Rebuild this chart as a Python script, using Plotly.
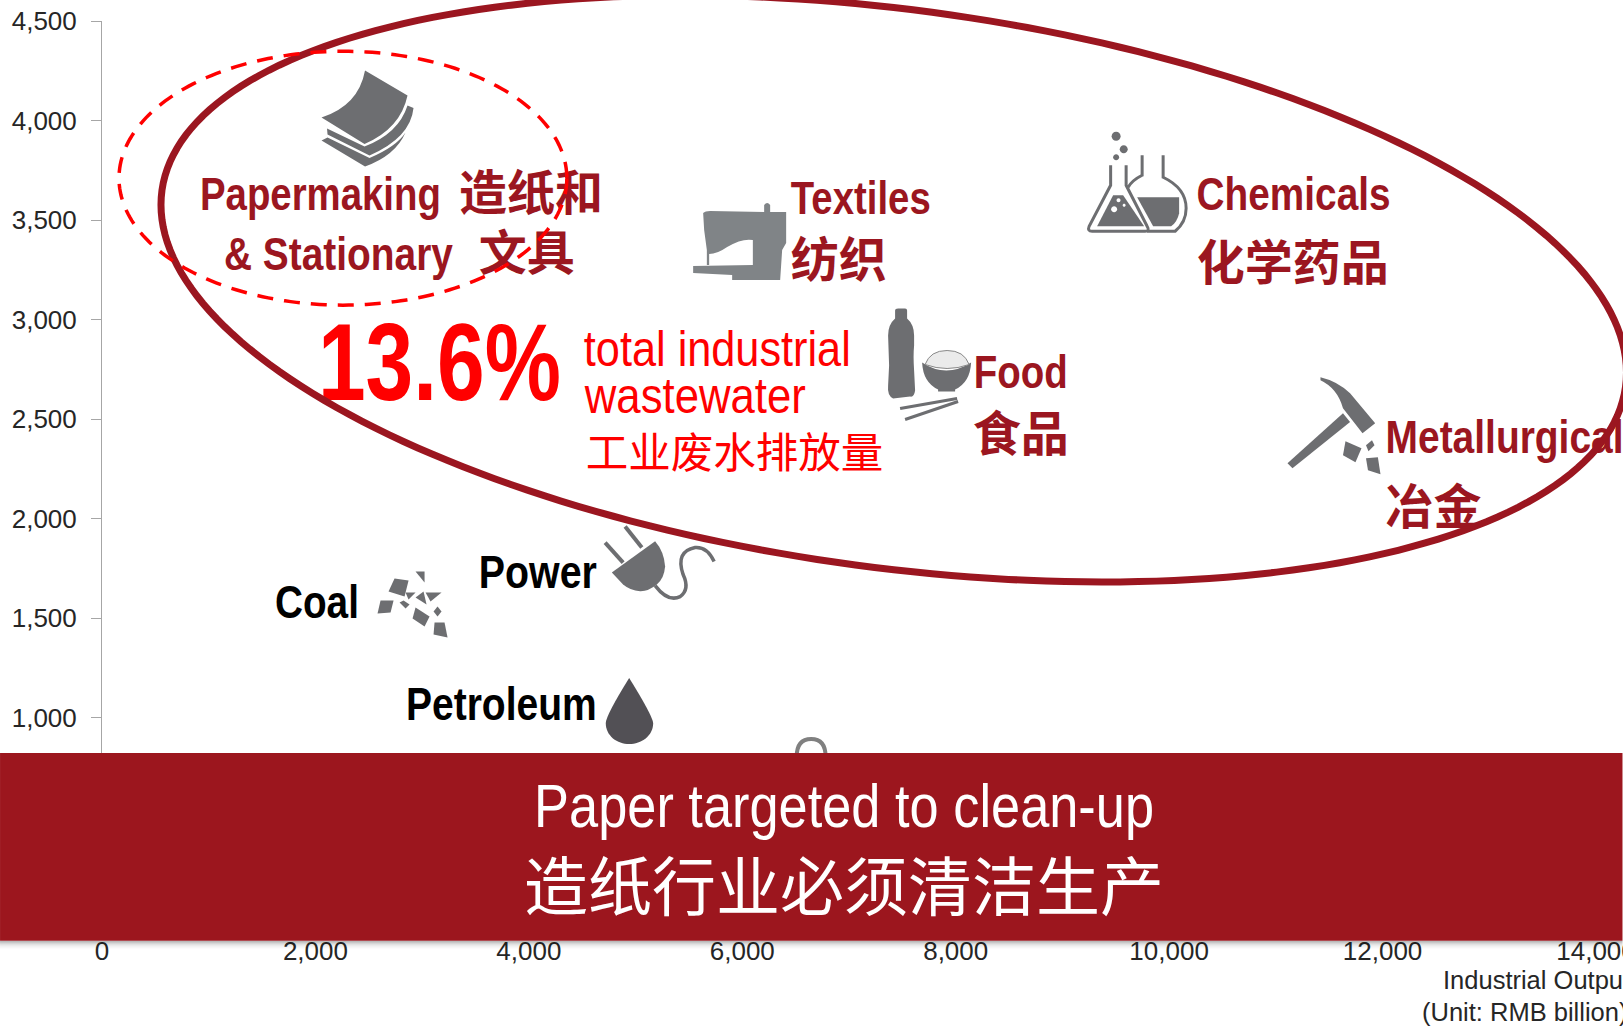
import re
import json
import math
import plotly.graph_objects as go

# ---------- data ----------
sectors = ["Papermaking", "Textiles", "Chemicals", "Food", "Metallurgical", "Coal", "Power", "Petroleum", "Other"]
output_rmb_bn = [2460, 5980, 9700, 7760, 11540, 2910, 5230, 4940, 6650]
wastewater = [4025, 3400, 3675, 2820, 2470, 1570, 1770, 1035, 789]
x_ticks = [0, 2000, 4000, 6000, 8000, 10000, 12000, 14000]
y_ticks = [0, 500, 1000, 1500, 2000, 2500, 3000, 3500, 4000, 4500]

# ---------- frame ----------
W, H = 1623, 1026
L, T = 102, 20.7
PW, PH = 1494.5, 896.5
XMAX, YMAX = 14000, 4500
GREY, DROP, MACH = "#6D6E71", "#525055", "#808487"
DARK, RED = "#9B1620", "#FF0000"
CJK = "Noto Sans CJK SC, sans-serif"
SANS = "Liberation Sans, Arial, sans-serif"

def dx(px): return (px - L) / PW * XMAX
def dy(py): return (T + PH - py) / PH * YMAX
def pxp(px): return (px - L) / PW
def pyp(py): return 1 - (py - T) / PH

def circle(cx, cy, r):
    k = 0.5523 * r
    return (f"M{cx-r} {cy} C{cx-r} {cy-k} {cx-k} {cy-r} {cx} {cy-r} C{cx+k} {cy-r} {cx+r} {cy-k} {cx+r} {cy} "
            f"C{cx+r} {cy+k} {cx+k} {cy+r} {cx} {cy+r} C{cx-k} {cy+r} {cx-r} {cy+k} {cx-r} {cy} Z")

def ellipse_path(cx, cy, ax, ay, c, n=240):
    l21 = c / ax
    l22 = math.sqrt(ay * ay - l21 * l21)
    pts = []
    for i in range(n + 1):
        t = 2 * math.pi * i / n
        u, v = math.cos(t), math.sin(t)
        pts.append((cx + ax * u, cy + l21 * u + l22 * v))
    return "M" + " L".join(f"{pxp(x):.5f} {pyp(y):.5f}" for x, y in pts) + " Z"

def poly(*pts):
    return "M" + " L".join(f"{a} {b}" for a, b in pts) + " Z"

NOFILL = "rgba(0,0,0,0)"
ICONS = {
 "Papermaking": ((364, 115), [
    ("M364.5 70 L407 95 Q400 128 364 143.5 L321 117 Q358 105 364.5 70 Z", GREY, None, 0),
    ("M326.5 128 L364 146 Q398 133 407 105 L413 107.5 Q410 137 369 155 L327 134 Z", GREY, None, 0),
    ("M321 140 L327 137 L369 157.5 Q396 146 405 132 Q395 155 364.5 166 Z", GREY, None, 0)]),
 "Textiles": ((740, 240), [
    ("M703 213 Q705 211 710 211 L764 212 L764 205 Q767 201 770 205 L770 212 L786 212 L786 243 L782 250 L780 280 "
     "L732 280 L732 275 L693 273 L693 266 L752.7 265 L752.7 240 Q742 238 727 247 Q717 254 709 254 L709 265 "
     "L706.7 265 L706.7 250 L704 230 Z", MACH, None, 0)]),
 "Chemicals": ((1137, 185), [
    (circle(1116, 136, 4.5), GREY, None, 0),
    (circle(1123.6, 149, 4), GREY, None, 0),
    (circle(1116, 157, 3), GREY, None, 0),
    ("M1142 155 L1142 175 Q1132 180 1128 187 M1163 155 L1163 177 Q1186 188 1186 208 Q1186 222 1175 231 L1147 231",
     NOFILL, GREY, 3),
    ("M1137 197 L1179 197 L1179 213 Q1177 222 1171 226 L1153 226 Z", GREY, None, 0),
    ("M1110.5 165 L1110.5 185 L1089 226 Q1087 231 1092 231 L1145 231 Q1150 231 1147 226 L1126 185 L1126 165",
     NOFILL, GREY, 3),
    (poly((1097, 226), (1113, 195), (1123, 195), (1144, 226)), GREY, None, 0),
    (circle(1114, 209, 3), "#FFFFFF", None, 0),
    (circle(1118.4, 200, 2), "#FFFFFF", None, 0),
    (circle(1124, 205, 1.5), "#FFFFFF", None, 0)]),
 "Food": ((930, 355), [
    ("M895 310 Q895 308 898 308 L905 308 Q907 308 907 310 L907 318 Q914 324 914 335 L914 345 Q913 355 914 370 "
     "L915 390 Q914 397 910 396 L893 398 Q887 395 888 385 L889 365 L888 335 Q888 324 895 318 Z", GREY, None, 0),
    ("M922 362 Q946 378 971 362 Q970 382 955 389 L955 391 L938 391 L938 389 Q923 382 922 362 Z", GREY, None, 0),
    ("M925 364 Q930 350 947 350 Q964 350 969 364 Q947 372 925 364 Z", "#EBEBEB", "#888888", 1),
    ("M900 408 L957 398", NOFILL, GREY, 3),
    ("M905 419 L958 401", NOFILL, GREY, 3)]),
 "Metallurgical": ((1333, 425), [
    (poly((1287, 463), (1292, 468), (1349.6, 421.7), (1342.5, 413)), GREY, None, 0),
    ("M1320 377 Q1337 381 1349.6 393 L1374.7 423 L1362 433 L1342.5 408 Q1337 388 1320 380 Z", GREY, None, 0),
    (poly((1345, 441), (1361, 448), (1355, 462), (1342.5, 455)), GREY, None, 0),
    (poly((1371.5, 440), (1374, 445), (1368, 451), (1365.5, 445)), GREY, None, 0),
    (poly((1365.5, 458), (1377.4, 457), (1380, 474), (1367.5, 470)), GREY, None, 0)]),
 "Coal": ((412, 605), [
    (poly((394, 579), (408, 581), (404, 597), (388, 592)), GREY, None, 0),
    (poly((415, 572), (424, 572), (424, 583)), GREY, None, 0),
    (poly((405, 593), (415, 593), (408, 600)), GREY, None, 0),
    (poly((423, 592), (426, 605), (415, 598)), GREY, None, 0),
    (poly((425, 593), (441, 593), (430, 602)), GREY, None, 0),
    (poly((380, 601), (393, 601), (390, 613), (377, 614)), GREY, None, 0),
    (poly((403, 601), (409, 605), (405, 609), (399, 603)), GREY, None, 0),
    (poly((415, 608), (429, 617), (424, 627), (412, 619)), GREY, None, 0),
    (poly((437, 607), (441, 612), (437, 617), (433, 612)), GREY, None, 0),
    (poly((434, 623), (444, 623), (447, 638), (433, 635)), GREY, None, 0)]),
 "Power": ((660, 565), [
    ("M605 543 L623 563", NOFILL, GREY, 4),
    ("M625 527 L641.7 548", NOFILL, GREY, 4),
    ("M611.7 573 L655 541.7 Q664 552 665 567 Q664 579 656.7 585 Q648 592 640 591.7 Q630 591 623 585 Z", GREY, None, 0),
    ("M655 586 Q668 603 680 597 Q690 590 683 575 Q675 552 695 548 Q707 547 714 562", NOFILL, GREY, 3.5)]),
 "Petroleum": ((629, 711), [
    ("M629 678 Q606 715 605.6 723 C605.6 736 617 744 629 744 C641 744 653 736 653 723 Q652 715 629 678 Z", DROP, None, 0)]),
 "Other": ((812, 760), [
    ("M797 757 Q797 739 811.5 739 Q826 739 826 757", NOFILL, "#808080", 4)]),
}

def relative(path, origin):
    ox, oy = origin
    out, is_x = [], True
    for tok in re.findall(r"[A-Za-z]|-?\d+\.?\d*", path):
        if tok.isalpha():
            out.append(tok)
            is_x = True
        else:
            v = float(tok)
            out.append(f"{v-ox:.2f}" if is_x else f"{oy-v:.2f}")
            is_x = not is_x
    return " ".join(out)

shapes = []
for name, sx, sy in zip(sectors, output_rmb_bn, wastewater):
    origin, parts = ICONS[name]
    for path, fill, lc, lw in parts:
        shapes.append(dict(type="path", xref="x", yref="y", xsizemode="pixel", ysizemode="pixel",
                           xanchor=sx, yanchor=sy, path=relative(path, origin), fillcolor=fill,
                           line=dict(color=lc or NOFILL, width=lw), layer="above"))

shapes.append(dict(type="path", xref="paper", yref="paper", path=ellipse_path(894, 288.5, 733, 293.5, 61500),
                   line=dict(color=DARK, width=7), fillcolor=NOFILL, layer="above"))
shapes.append(dict(type="path", xref="paper", yref="paper", path=ellipse_path(343, 178, 224, 127, 0),
                   line=dict(color=RED, width=3.5, dash="16px,11px"), fillcolor=NOFILL, layer="above"))

for i, op in enumerate([0.30, 0.24, 0.18, 0.13, 0.09, 0.06, 0.04, 0.02]):
    shapes.append(dict(type="rect", xref="paper", yref="paper", x0=pxp(0), x1=pxp(W),
                       y0=pyp(941 + i), y1=pyp(942 + i), fillcolor=f"rgba(0,0,0,{op})", line_width=0, layer="above"))
shapes.append(dict(type="rect", xref="paper", yref="paper", x0=pxp(0), x1=pxp(W), y0=pyp(941), y1=pyp(753),
                   fillcolor="#9C161E", line_width=0, layer="above"))

fig = go.Figure()
fig.add_trace(go.Scatter(x=output_rmb_bn, y=wastewater, mode="markers", text=sectors,
                         marker=dict(size=1, opacity=0), showlegend=False, hoverinfo="text"))

def label(text, left, mid, size, color, bold=True, family=SANS):
    fig.add_trace(go.Scatter(x=[dx(left)], y=[dy(mid)], mode="text", text=[text], textposition="middle right",
                             textfont=dict(family=family, size=size, color=color, weight=700 if bold else 400),
                             cliponaxis=False, showlegend=False, hoverinfo="skip"))

label("Papermaking", 200, 198, 46, DARK)
label("造纸和", 459, 198, 48, DARK, family=CJK)
label("&amp; Stationary", 224, 258, 46, DARK)
label("文具", 479, 258, 48, DARK, family=CJK)
label("Textiles", 791, 202, 46, DARK)
label("纺织", 791, 265, 48, DARK, family=CJK)
label("Chemicals", 1197, 198, 46, DARK)
label("化学药品", 1197, 268, 48, DARK, family=CJK)
label("Food", 974, 376, 46, DARK)
label("食品", 973, 439, 48, DARK, family=CJK)
label("Metallurgical", 1386, 441, 46, DARK)
label("冶金", 1386, 512, 48, DARK, family=CJK)
label("Coal", 275, 607, 46, "#000000")
label("Power", 479, 577, 46, "#000000")
label("Petroleum", 406, 709, 46, "#000000")
label("13.6%", 318, 372, 110, RED)
label("total industrial", 584, 353, 50, RED, bold=False)
label("wastewater", 585, 400, 50, RED, bold=False)
label("工业废水排放量", 586, 457, 42.5, RED, bold=False, family=CJK)

# rendered widths of the condensed (Arial-Narrow-looking) Latin labels
CONDENSED = {
    "Papermaking": 241, "& Stationary": 229, "Textiles": 140, "Chemicals": 194, "Food": 94,
    "Metallurgical": 238, "Coal": 84, "Power": 118, "Petroleum": 191, "13.6%": 243,
    "total industrial": 267, "wastewater": 221, "Paper targeted to clean-up": 620,
}

def note(text, x, y, size, color, family, xanchor="center"):
    return dict(text=text, xref="paper", yref="paper", x=pxp(x), y=pyp(y), xanchor=xanchor, yanchor="middle",
                showarrow=False, font=dict(family=family, size=size, color=color))

annotations = [
    note("Paper targeted to clean-up", 844, 806, 62, "#FFFFFF", SANS),
    note("造纸行业必须清洁生产", 844, 882, 64, "#FFFFFF", CJK),
    note("Industrial Output", 1441, 980, 25.5, "#262626", SANS, "left"),
    note("(Unit: RMB billion)", 1420, 1012, 25.5, "#262626", SANS, "left"),
]

fig.update_layout(
    width=W, height=H, autosize=False, paper_bgcolor="#FFFFFF", plot_bgcolor="#FFFFFF",
    margin=dict(l=L, t=T, r=W - L - PW, b=H - T - PH, pad=0, autoexpand=False),
    showlegend=False, shapes=shapes, annotations=annotations,
    xaxis=dict(range=[0, XMAX], tickmode="array", tickvals=x_ticks, tickformat=",", showgrid=False, zeroline=False,
               ticks="", showline=False, ticklabelstandoff=16, ticklabeloverflow="allow",
               tickfont=dict(family=SANS, size=26, color="#262626")),
    yaxis=dict(range=[0, YMAX], tickmode="array", tickvals=y_ticks, tickformat=",", showgrid=False, zeroline=False,
               ticks="outside", ticklen=10, tickcolor="#A6A6A6", tickwidth=1, showline=True, linecolor="#A6A6A6",
               linewidth=1, ticklabelstandoff=9, tickfont=dict(family=SANS, size=26, color="#262626")),
)

JS = """
document.body.style.margin='0';document.documentElement.style.overflow='hidden';
(function(){
  var W=%s;
  function f(){
    document.querySelectorAll('.textpoint text, .annotation-text').forEach(function(el){
      var t=W[el.textContent]; if(!t) return;
      el.removeAttribute('transform');
      var n=el.getComputedTextLength(), x=parseFloat(el.getAttribute('x'))||0, s=t/n;
      el.setAttribute('transform','translate('+x+' 0) scale('+s+' 1) translate('+(-x)+' 0)');
    });
  }
  f(); setTimeout(f,50);
  var gd=document.getElementById('{plot_id}'); if(gd&&gd.on) gd.on('plotly_afterplot',f);
})();
""" % json.dumps(CONDENSED)

fig.write_html("out.html", post_script=JS, config={"displayModeBar": False})
